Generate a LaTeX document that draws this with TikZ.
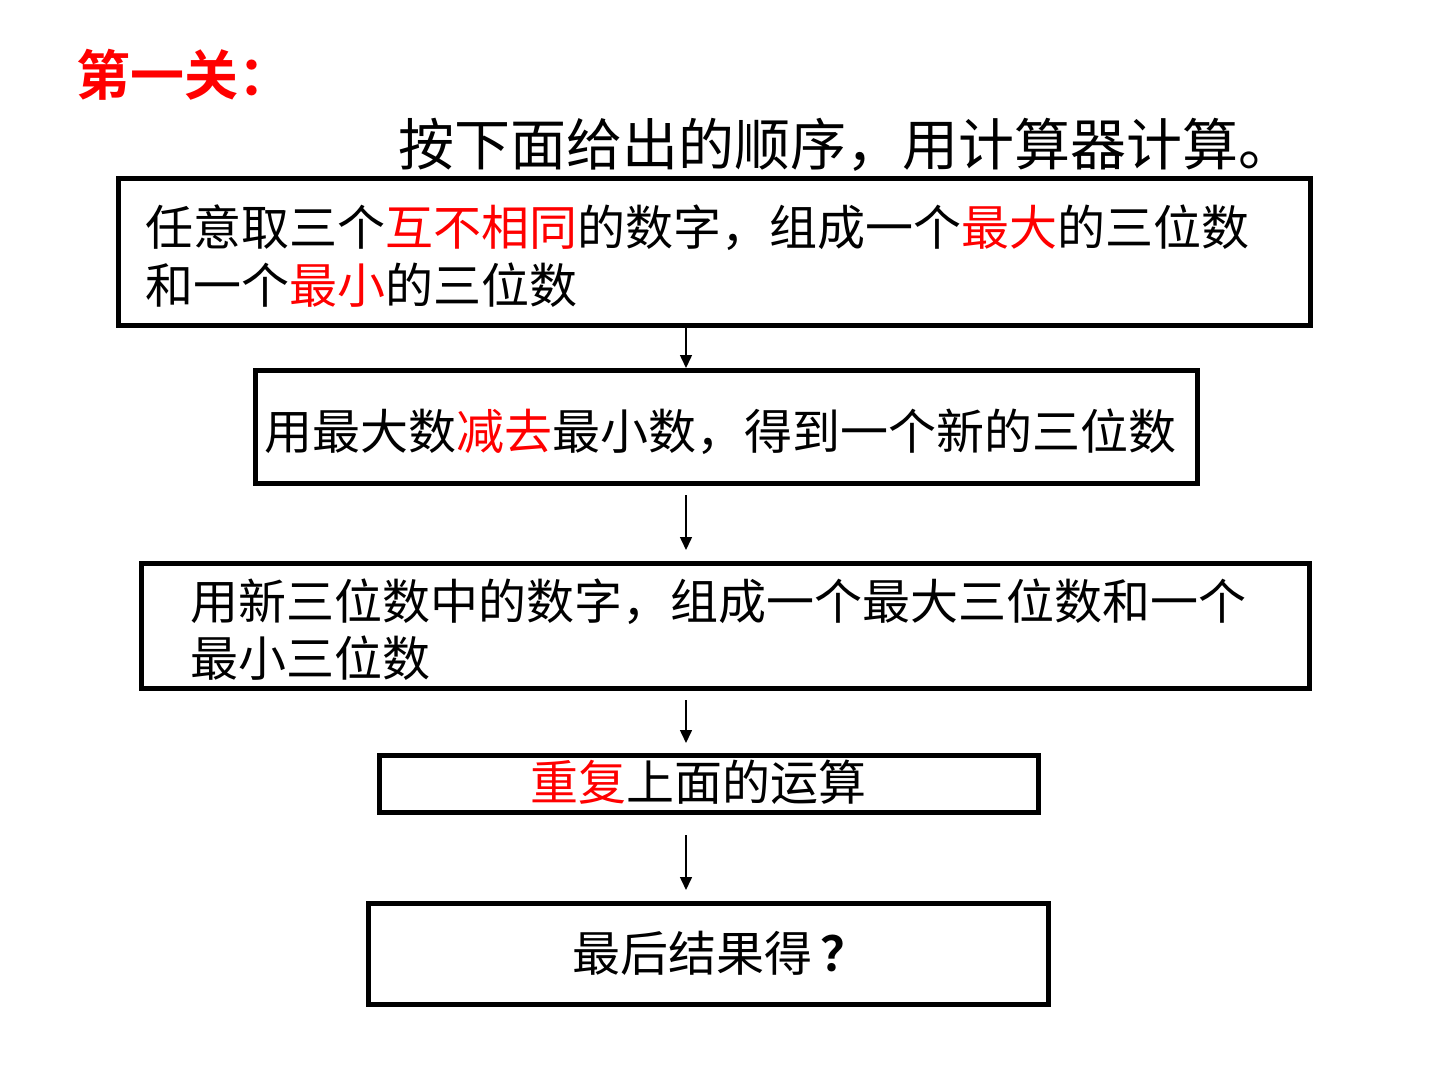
\documentclass[tikz,border=0pt]{standalone}
\usepackage{fontspec}
\usetikzlibrary{arrows.meta}
\newfontfamily\cjk{Noto Sans CJK SC}
\newfontfamily\cjkb{Noto Sans CJK SC Bold}
\definecolor{hired}{RGB}{255,0,0}
\newcommand{\hl}[1]{\textcolor{hired}{#1}}
\begin{document}
\begin{tikzpicture}[x=1pt,y=-1pt,
  flowbox/.style={draw=black,line width=5pt,fill=white,inner sep=0pt},
  bodytext/.style={font=\cjk\fontsize{48}{56}\selectfont,inner sep=0pt},
  flowarrow/.style={line width=1.5pt,-{Triangle[width=12pt,length=13pt]}}]
\useasboundingbox (0,0) rectangle (1440,1080);
\fill[white] (0,0) rectangle (1440,1080);
% title
\node[anchor=west,inner sep=0pt,text=hired,font=\cjkb\fontsize{54}{62}\selectfont] (title) at (76,75) {第一关：};
\node[anchor=west,inner sep=0pt,font=\cjk\fontsize{56}{64}\selectfont] (sub) at (398,145) {按下面给出的顺序，用计算器计算。};
% boxes
\draw[flowbox] (118,178) rectangle (1310,325);
\coordinate (b1s) at (686,325);
\coordinate (b2n) at (686,368);
\draw[flowbox] (255,370) rectangle (1197,483);
\coordinate (b2s) at (686,495);
\coordinate (b3n) at (686,550);
\draw[flowbox] (141,563) rectangle (1309,688);
\coordinate (b3s) at (686,700);
\coordinate (b4n) at (686,743);
\draw[flowbox] (379,755) rectangle (1038,812);
\coordinate (b4s) at (686,835);
\coordinate (b5n) at (686,890);
\draw[flowbox] (368,903) rectangle (1048,1004);
% texts
\node[bodytext,anchor=west] (t1a) at (145,228) {任意取三个\hl{互不相同}的数字，组成一个\hl{最大}的三位数};
\node[bodytext,anchor=west] (t1b) at (145,285) {和一个\hl{最小}的三位数};
\node[bodytext,anchor=west] (t2) at (264,432) {用最大数\hl{减去}最小数，得到一个新的三位数};
\node[bodytext,anchor=west] (t3a) at (190,602) {用新三位数中的数字，组成一个最大三位数和一个};
\node[bodytext,anchor=west] (t3b) at (190,658) {最小三位数};
\node[bodytext,anchor=west] (t4) at (530,782) {\hl{重复}上面的运算};
\node[bodytext,anchor=west] (t5) at (572,953) {最后结果得\,{\cjkb ？}};
% arrows
\draw[flowarrow] (b1s) -- (b2n);
\draw[flowarrow] (b2s) -- (b3n);
\draw[flowarrow] (b3s) -- (b4n);
\draw[flowarrow] (b4s) -- (b5n);
\end{tikzpicture}
\end{document}
